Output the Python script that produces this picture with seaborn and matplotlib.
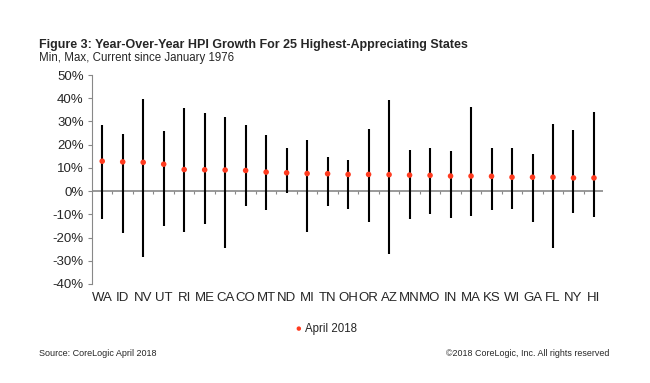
import pandas as pd
import matplotlib.pyplot as plt
import seaborn as sns

# states ordered by current yoy growth
states = ['WA', 'ID', 'NV', 'UT', 'RI', 'ME', 'CA', 'CO', 'MT', 'ND', 'MI', 'TN', 'OH',
          'OR', 'AZ', 'MN', 'MO', 'IN', 'MA', 'KS', 'WI', 'GA', 'FL', 'NY', 'HI']
current = [12.9, 12.6, 12.4, 11.6, 9.3, 9.2, 9.1, 8.9, 8.2, 7.9, 7.6, 7.5, 7.2,
           7.2, 7.1, 6.9, 6.8, 6.5, 6.5, 6.4, 6.0, 6.0, 6.0, 5.7, 5.7]
max_val = [28.7, 24.6, 39.7, 25.7, 35.6, 33.8, 32.0, 28.7, 24.0, 18.4, 21.9, 14.8, 13.2,
           26.9, 39.4, 17.7, 18.4, 17.5, 36.1, 18.4, 18.5, 15.9, 29.0, 26.3, 33.9]
min_val = [-11.8, -18.2, -28.3, -15.1, -17.5, -14.1, -24.7, -6.5, -8.0, -0.6, -17.8, -6.3, -7.8,
           -13.4, -26.9, -12.2, -9.9, -11.5, -10.9, -8.0, -7.8, -13.1, -24.7, -9.6, -11.2]

df = pd.DataFrame({'state': states, 'current': current, 'max': max_val, 'min': min_val})

sns.set_style('white')
plt.rcParams['font.family'] = ['Liberation Sans', 'DejaVu Sans']

fig = plt.figure(figsize=(6.5, 3.83), dpi=100)
ax = fig.add_axes([0.1415, 0.2585, 0.7865, 0.5455])

# current value as red dots
sns.scatterplot(data=df, x='state', y='current', ax=ax, color='#ff3b1f',
                s=16, edgecolor='none', zorder=3, label='April 2018')
# min-max range
ax.vlines(df['state'], df['min'], df['max'], color='black', lw=1.5, zorder=2)

ax.set_xlim(-0.5, 24.45)
ax.set_ylim(-40, 50)
ax.set_yticks(range(-40, 51, 10))
ax.set_yticklabels([f'{v}%' for v in range(-40, 51, 10)], fontsize=9.5)
ax.tick_params(axis='x', length=0, labelsize=9.5, pad=6)
ax.tick_params(axis='y', length=3, color='#888888', direction='out', left=True, pad=3)
ax.set_xlabel('')
ax.set_ylabel('')

for side in ['top', 'right', 'bottom']:
    ax.spines[side].set_visible(False)
ax.spines['left'].set_color('#888888')

# zero line with small category separators
ax.axhline(0, color='#888888', lw=1.2, zorder=1)
ax.vlines([i + 0.5 for i in range(len(states))], -1.2, 0, color='#888888', lw=0.8, zorder=1)

ax.legend(loc='center left', bbox_to_anchor=(0.442, 0.142), bbox_transform=fig.transFigure,
          frameon=False, fontsize=8.3, handletextpad=-0.5, markerscale=0.8,
          borderpad=0, borderaxespad=0)

fig.text(0.06, 0.875, 'Figure 3: Year-Over-Year HPI Growth For 25 Highest-Appreciating States',
         fontsize=9, fontweight='bold')
fig.text(0.06, 0.84, 'Min, Max, Current since January 1976', fontsize=8.3)
fig.text(0.06, 0.07, 'Source: CoreLogic April 2018', fontsize=6.5)
fig.text(0.937, 0.07, '\u00a92018 CoreLogic, Inc. All rights reserved', fontsize=6.4, ha='right')

fig.savefig('out.png', dpi=100)
